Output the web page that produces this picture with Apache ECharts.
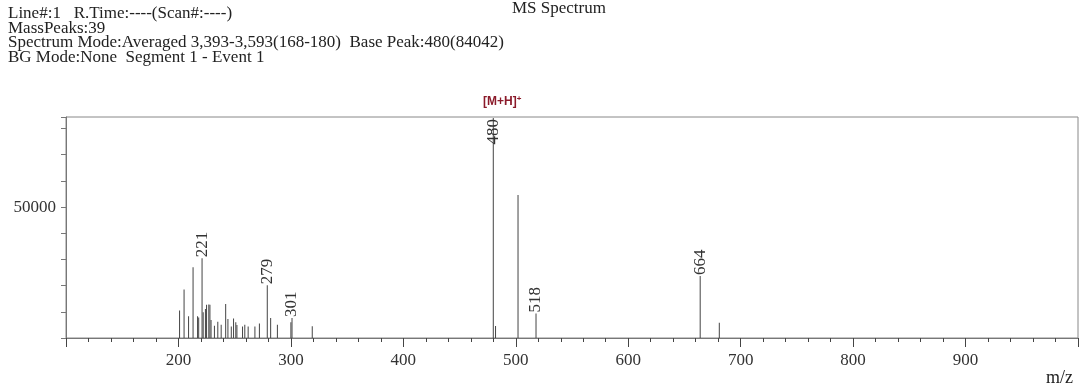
<!DOCTYPE html>
<html>
<head>
<meta charset="utf-8">
<script src="https://cdn.jsdelivr.net/npm/echarts@6/dist/echarts.min.js"></script>
<style>
  html, body { margin: 0; padding: 0; background: #fff; }
  #chart { width: 1081px; height: 387px; }
</style>
</head>
<body>
<div id="chart"></div>
<script>
// m/z of each mass peak
const mzValues = [201, 205, 209, 213, 217, 218, 221, 222, 224, 225, 227, 228, 229, 232, 235,
  238, 242, 244, 247, 249, 251, 252, 257, 259, 262, 268, 272, 279, 282, 288, 300, 301, 319,
  480, 482, 502, 518, 664, 681];
// intensity of each peak
const intensities = [10500, 18500, 8300, 27000, 8300, 7800, 30500, 9800, 11100, 12700, 12800, 12700, 6900, 4700, 6200,
  5100, 13000, 7300, 4400, 7400, 6000, 5000, 4400, 5100, 4400, 4400, 5500, 20100, 7600, 5100, 6000, 7600, 4500,
  84042, 4600, 54600, 9400, 23700, 5800];
// peaks carrying an m/z label
const labeledPeaks = [221, 279, 301, 480, 518, 664];
// header lines
const headerLines = [
  'Line#:1   R.Time:----(Scan#:----)',
  'MassPeaks:39',
  'Spectrum Mode:Averaged 3,393-3,593(168-180)  Base Peak:480(84042)',
  'BG Mode:None  Segment 1 - Event 1'
];
const chartTitle = 'MS Spectrum';
const yLabelValues = [50000];
const xAxisName = 'm/z';

const SERIF = '"Liberation Serif", "Times New Roman", serif';
const SANS = '"Liberation Sans", Arial, sans-serif';
const RED = '#8b1a2a';

const data = mzValues.map((m, i) => {
  const item = { value: [m, intensities[i]] };
  if (labeledPeaks.includes(m)) {
    if (m === 480) {
      item.label = { show: true, position: 'insideTop', rotate: 90, align: 'right', verticalAlign: 'middle', distance: 1 };
    } else {
      item.label = { show: true };
    }
  }
  return item;
});

const graphics = headerLines.map((t, i) => ({
  type: 'text', left: 8, top: 5 + i * 14.6,
  style: { text: t, font: '17px ' + SERIF, fill: '#222' }
}));
graphics.push({
  type: 'text', left: 512, top: 0,
  style: { text: chartTitle, font: '17px ' + SERIF, fill: '#222' }
});
graphics.push({
  type: 'text', left: 483, top: 95,
  style: {
    text: '{a|[M+H]}{b|+}',
    fill: RED,
    rich: {
      a: { fontFamily: SANS, fontWeight: 'bold', fontSize: 12, fill: RED, color: RED },
      b: { fontFamily: SANS, fontWeight: 'bold', fontSize: 8, fill: RED, color: RED, verticalAlign: 'top', padding: [0, 0, 6, 0] }
    }
  }
});
graphics.push({
  type: 'text', left: 1046, top: 369,
  style: { text: xAxisName, font: '18px ' + SERIF, fill: '#222' }
});

const chart = echarts.init(document.getElementById('chart'), null, { renderer: 'canvas' });
chart.setOption({
  animation: false,
  backgroundColor: '#fff',
  grid: { left: 66, right: 2, top: 117, bottom: 49, show: true, borderColor: '#888', borderWidth: 1 },
  graphic: graphics,
  xAxis: {
    type: 'value', min: 100, max: 1000, interval: 100,
    axisLine: { show: true, onZero: false, lineStyle: { color: '#777', width: 1 } },
    axisTick: { show: true, length: 9, lineStyle: { color: '#444' } },
    minorTick: { show: true, splitNumber: 5, length: 4, lineStyle: { color: '#444' } },
    splitLine: { show: false },
    axisLabel: {
      margin: 14, fontFamily: SERIF, fontSize: 17, color: '#333',
      formatter: v => (v === 100 || v === 1000) ? '' : String(v)
    }
  },
  yAxis: {
    type: 'value', min: 0, max: 84400, interval: 10000,
    axisLine: { show: true, lineStyle: { color: '#777', width: 1 } },
    axisTick: { show: true, length: 5, lineStyle: { color: '#777' } },
    splitLine: { show: false },
    axisLabel: {
      margin: 10, fontFamily: SERIF, fontSize: 17, color: '#333',
      formatter: v => yLabelValues.includes(v) ? String(v) : ''
    }
  },
  series: [{
    type: 'bar',
    barWidth: 1,
    itemStyle: { color: '#444' },
    label: {
      show: false, position: 'top', rotate: 90, align: 'left', verticalAlign: 'middle', distance: 1,
      fontFamily: SERIF, fontSize: 17, color: '#333',
      formatter: p => String(p.value[0])
    },
    data: data
  }]
});
</script>
</body>
</html>
